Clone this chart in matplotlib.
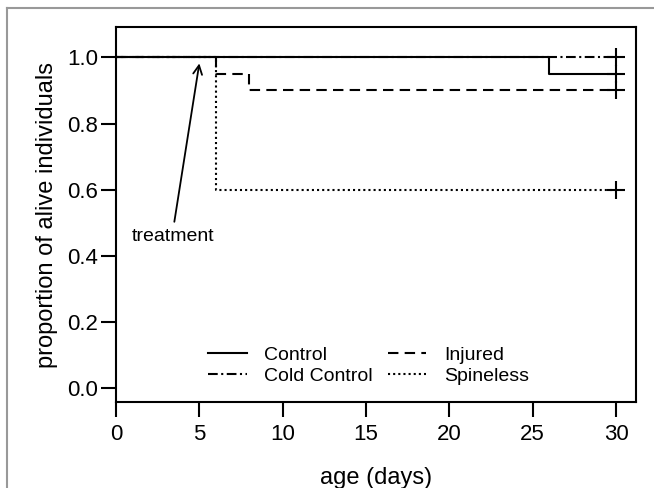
import matplotlib
matplotlib.use("Agg")
import matplotlib.pyplot as plt
from matplotlib.lines import Line2D

plt.rcParams['font.family'] = ['Liberation Sans', 'DejaVu Sans']
plt.rcParams['lines.scale_dashes'] = False

# survival curves (Kaplan-Meier steps)
control_t = [0, 26, 30]
control_s = [1.0, 0.95, 0.95]
cold_t = [0, 30]
cold_s = [1.0, 1.0]
injured_t = [0, 6, 8, 30]
injured_s = [1.0, 0.95, 0.90, 0.90]
spineless_t = [0, 6, 30]
spineless_s = [1.0, 0.60, 0.60]

# censoring marks at the end of follow-up
censor_t = [30, 30, 30, 30]
censor_s = [1.0, 0.95, 0.90, 0.60]

x_ticks = [0, 5, 10, 15, 20, 25, 30]
y_ticks = [0.0, 0.2, 0.4, 0.6, 0.8, 1.0]

W, H = 654, 488
fig = plt.figure(figsize=(W / 100, H / 100), dpi=100)
ax = fig.add_axes([116 / W, 1 - 402 / H, 520 / W, 375 / H])

lw = 1.5
ax.step(control_t, control_s, where='post', color='black', lw=lw, label='Control')
ax.step(cold_t, cold_s, where='post', color='black', lw=lw,
        dashes=(7, 2.5, 1.5, 2.5), label='Cold Control')
ax.step(injured_t, injured_s, where='post', color='black', lw=lw,
        dashes=(7.5, 4.5), label='Injured')
ax.step(spineless_t, spineless_s, where='post', color='black', lw=lw,
        dashes=(1.5, 2.2), label='Spineless')
ax.plot(censor_t, censor_s, ls='none', marker='+', ms=13, mew=1.5, color='black')

# treatment arrow
ax.annotate('', xy=(5, 0.982), xytext=(3.5, 0.503),
            arrowprops=dict(arrowstyle='->', lw=1.3, color='black',
                            mutation_scale=16, shrinkA=0, shrinkB=0))
ax.text(3.45, 0.458, 'treatment', ha='center', va='center', fontsize=14)

ax.set_xlim(0, 31.2)
ax.set_ylim(-0.042, 1.092)
ax.set_xticks(x_ticks)
ax.set_yticks(y_ticks)
ax.set_yticklabels([f'{v:.1f}' for v in y_ticks])
ax.tick_params(axis='both', labelsize=16, width=1.5, length=11)
ax.tick_params(axis='y', pad=2)
ax.tick_params(axis='x', pad=5)
for s in ax.spines.values():
    s.set_linewidth(1.5)

ax.set_xlabel('age (days)', fontsize=17)
ax.set_ylabel('proportion of alive individuals', fontsize=17)
ax.xaxis.label.set_va('center')
ax.yaxis.label.set_va('center')
ax.xaxis.set_label_coords(0.5, (402 - 478) / 375)
ax.yaxis.set_label_coords((47 - 116) / 520, 0.5)

leg = ax.legend(ncol=2, frameon=False, fontsize=14, loc='upper left',
                bbox_to_anchor=((208 - 116) / 520, (402 - 346) / 375),
                borderpad=0, borderaxespad=0, handlelength=2.0,
                handletextpad=0.9, columnspacing=0.75, labelspacing=0.2)

# grey outer frame of the original figure panel
frame_c = '#999999'
fig.add_artist(Line2D([7 / W, 7 / W], [0, 1 - 8 / H], color=frame_c, lw=1.5))
fig.add_artist(Line2D([7 / W, 1], [1 - 8 / H, 1 - 8 / H], color=frame_c, lw=1.5))

fig.savefig('out.png', dpi=100)
